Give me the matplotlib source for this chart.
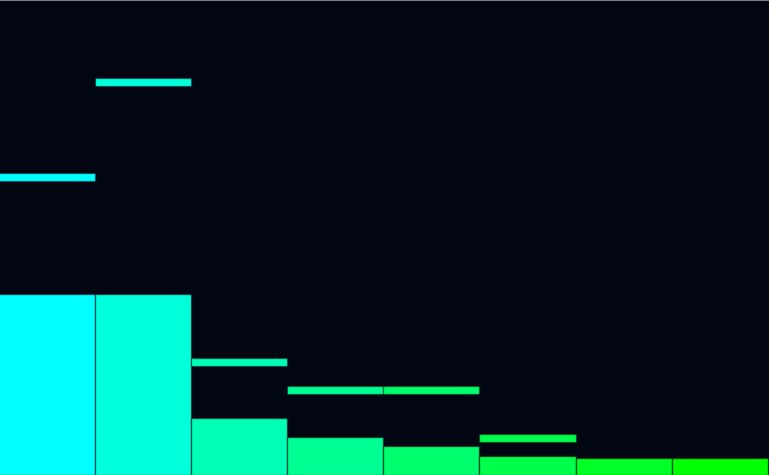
import matplotlib
matplotlib.use("Agg")
import matplotlib.pyplot as plt
import numpy as np

# spectrum levels (0-100 scale) and peak-hold markers
bands = ["b1", "b2", "b3", "b4", "b5", "b6", "b7", "b8"]
levels = [38.1, 38.1, 12.1, 8.0, 6.1, 4.0, 3.6, 3.6]
peaks = [61.9, 81.9, 22.9, 17.1, 17.1, 6.9, None, None]
colors = ["#00FFFF", "#00FFDB", "#00FFB6", "#00FF92",
          "#00FF6D", "#00FF49", "#00FF24", "#00FF00"]

bg = "#020512"
peak_h = 1.7

fig = plt.figure(figsize=(7.69, 4.75), dpi=100, facecolor=bg)
ax = fig.add_axes([0, 0, 1, 1])
ax.set_facecolor(bg)

x = np.arange(len(bands))
ax.bar(x, levels, width=1.0, align="edge", color=colors,
       edgecolor="#02051280", linewidth=1)

for xi, p, c in zip(x, peaks, colors):
    if p is None:
        continue
    ax.bar(xi, peak_h, bottom=p, width=1.0, align="edge", color=c,
           edgecolor="#02051260", linewidth=1)

ax.set_xlim(0.016, 8.01)
ax.set_ylim(0, 100)
ax.set_xticks([])
ax.set_yticks([])
for s in ["left", "right", "bottom"]:
    ax.spines[s].set_visible(False)
ax.spines["top"].set_color("#7a7a7a")
ax.spines["top"].set_linewidth(1.5)

fig.savefig("out.png", dpi=100, facecolor=bg)
